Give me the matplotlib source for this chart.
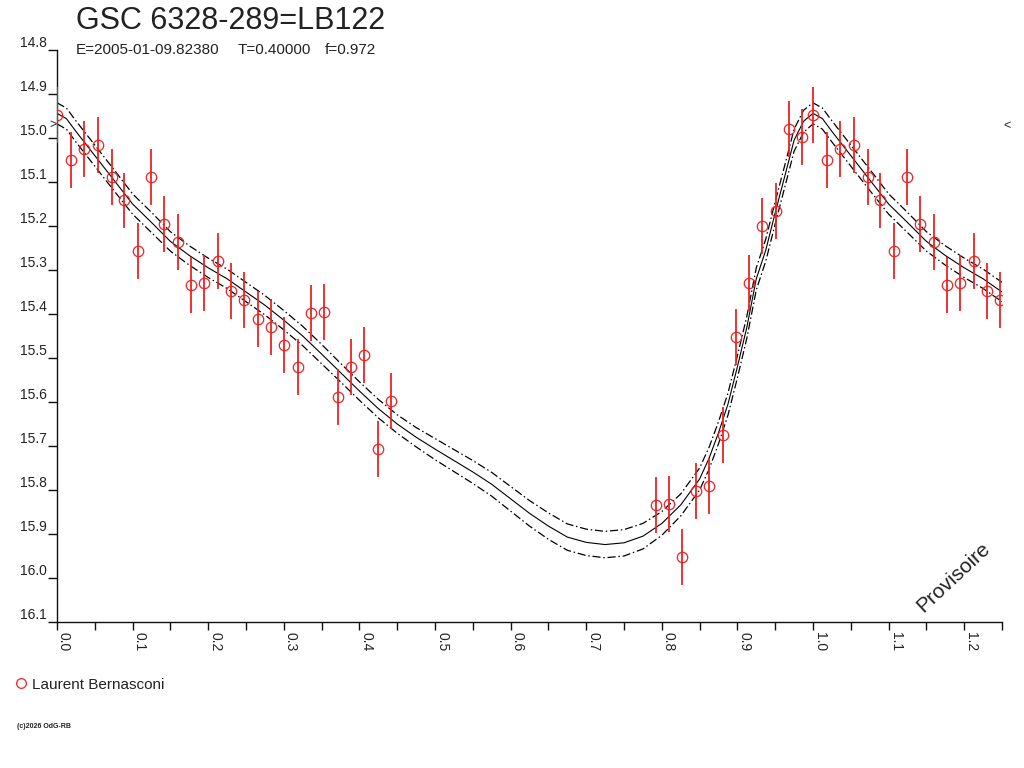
import numpy as np
import matplotlib
matplotlib.use("Agg")
import matplotlib.pyplot as plt
from matplotlib.lines import Line2D
from matplotlib.ticker import MultipleLocator, FormatStrFormatter

plt.rcParams['font.family'] = ['Liberation Sans', 'DejaVu Sans']

W, H = 1024, 768
TXT = '#222222'
RED = '#ee2222'

title = "GSC 6328-289=LB122"
epoch_txt = "E=2005-01-09.82380"
period_txt = "T=0.40000"
f_txt = "f=0.972"
observer = "Laurent Bernasconi"
credit = "(c)2026 OdG-RB"

obs_phase = [0.000, 0.0185, 0.0357, 0.0542, 0.0728, 0.0886, 0.107, 0.124, 0.1415, 0.160,
             0.177, 0.194, 0.213, 0.230, 0.247, 0.266, 0.283, 0.300, 0.319, 0.336,
             0.353, 0.372, 0.389, 0.406, 0.425, 0.442,
             0.792, 0.810, 0.827, 0.845, 0.862, 0.881, 0.898, 0.915, 0.933, 0.951,
             0.968, 0.985]
obs_mag = [14.948, 15.050, 15.025, 15.016, 15.089, 15.142, 15.257, 15.089, 15.195, 15.236,
           15.334, 15.330, 15.280, 15.348, 15.368, 15.411, 15.430, 15.470, 15.520, 15.398,
           15.395, 15.589, 15.520, 15.493, 15.707, 15.598,
           15.834, 15.832, 15.952, 15.802, 15.791, 15.675, 15.452, 15.330, 15.200, 15.166,
           14.980, 14.998]
obs_err = 0.063

# fitted light curve and its band half-width
fit_phase = [0.0, 0.0125, 0.025, 0.05, 0.075, 0.10, 0.125, 0.15, 0.175, 0.20, 0.225, 0.25,
             0.275, 0.30, 0.325, 0.35, 0.375, 0.40, 0.425, 0.45, 0.475, 0.50, 0.525, 0.55,
             0.575, 0.60, 0.625, 0.65, 0.675, 0.70, 0.725, 0.75, 0.775, 0.80, 0.825, 0.85,
             0.8625, 0.875, 0.8875, 0.90, 0.9125, 0.925, 0.9375, 0.95, 0.9625, 0.975, 0.9875]
fit_mag = [14.944, 14.956, 14.985, 15.040, 15.095, 15.150, 15.192, 15.235, 15.267, 15.295,
           15.320, 15.350, 15.380, 15.414, 15.450, 15.491, 15.533, 15.575, 15.615, 15.650,
           15.680, 15.707, 15.733, 15.759, 15.787, 15.820, 15.853, 15.882, 15.907, 15.919,
           15.924, 15.920, 15.905, 15.876, 15.834, 15.775, 15.728, 15.670, 15.605, 15.520,
           15.430, 15.320, 15.255, 15.170, 15.088, 15.005, 14.962]
fit_band = [0.024, 0.024, 0.024, 0.024, 0.024, 0.023, 0.023, 0.022, 0.022, 0.022,
            0.022, 0.022, 0.022, 0.022, 0.022, 0.022, 0.021, 0.021, 0.021, 0.021,
            0.022, 0.024, 0.025, 0.026, 0.027, 0.028, 0.029, 0.030, 0.030, 0.030,
            0.030, 0.030, 0.029, 0.027, 0.025, 0.025, 0.025, 0.025, 0.025, 0.025,
            0.025, 0.025, 0.025, 0.025, 0.025, 0.025, 0.025]


def fx(x):
    return x / W


def fy(y):
    return 1 - y / H


def extend(phase, vals, upto=0.25):
    phase = np.asarray(phase)
    vals = np.asarray(vals)
    keep = phase <= upto + 1e-9
    return np.concatenate([phase, phase[keep] + 1]), np.concatenate([vals, vals[keep]])


fig = plt.figure(figsize=(W / 100, H / 100), dpi=100)
ax = fig.add_axes([fx(57), fy(622), fx(945), 572 / H])

# light curve with band
px, pm = extend(fit_phase, fit_mag)
_, pb = extend(fit_phase, fit_band)
ax.plot(px, pm, color='black', lw=0.8)
ax.plot(px, pm - pb, color='black', lw=0.9, linestyle=(0, (6.5, 2.2, 1.2, 2.2)))
ax.plot(px, pm + pb, color='black', lw=0.9, linestyle=(0, (6.5, 2.2, 1.2, 2.2)))

# observations, repeated past phase 1
ox, om = extend(obs_phase, obs_mag)
ax.errorbar(ox, om, yerr=obs_err, fmt='o', mfc='none', mec=RED, ms=7.5, mew=0.9,
            ecolor=RED, elinewidth=1.3, capsize=0, zorder=3)

ax.set_xlim(0, 1.25)
ax.set_ylim(16.1, 14.8)

for s in ['top', 'right']:
    ax.spines[s].set_visible(False)
for s in ['left', 'bottom']:
    ax.spines[s].set_linewidth(1.0)
    ax.spines[s].set_color('#111111')

ax.xaxis.set_major_locator(MultipleLocator(0.1))
ax.xaxis.set_minor_locator(MultipleLocator(0.05))
ax.xaxis.set_major_formatter(FormatStrFormatter('%.1f'))
ax.yaxis.set_major_locator(MultipleLocator(0.1))
ax.yaxis.set_major_formatter(FormatStrFormatter('%.1f'))

ax.tick_params(axis='x', which='both', direction='out', length=6, width=1.0,
               color='#111111', labelsize=10, labelcolor=TXT, pad=1.5)
ax.tick_params(axis='x', which='major', labelrotation=-90)
ax.tick_params(axis='y', which='major', direction='out', length=6.5, width=1.0,
               color='#111111', labelsize=10, labelcolor=TXT, pad=1)
for lab in ax.get_xticklabels():
    lab.set_ha('left')
    lab.set_va('top')
for lab in ax.get_yticklabels():
    lab.set_va('bottom')

# header texts
fig.text(fx(76), fy(29), title, fontsize=22, color=TXT, va='baseline')
fig.text(fx(76), fy(54), epoch_txt, fontsize=11, color=TXT, va='baseline')
fig.text(fx(238), fy(54), period_txt, fontsize=11, color=TXT, va='baseline')
fig.text(fx(325), fy(54), f_txt, fontsize=11, color=TXT, va='baseline')

# markers on the axes edges
fig.text(fx(53), fy(125), ">", fontsize=9, color=TXT, ha='center', va='center')
fig.text(fx(1007), fy(126), "<", fontsize=9, color=TXT, ha='center', va='center')

# watermark
fig.text(fx(953), fy(577), "Provisoire", fontsize=15, color=TXT, rotation=43,
         ha='center', va='center', rotation_mode='anchor')

# legend
fig.add_artist(Line2D([fx(21)], [fy(683)], transform=fig.transFigure, marker='o',
                      mfc='none', mec=RED, ms=7, mew=0.9, linestyle='none'))
fig.text(fx(32), fy(689), observer, fontsize=11, color=TXT, va='baseline')
fig.text(fx(17), fy(728), credit, fontsize=5, color=TXT, va='baseline', weight='bold')

fig.savefig('out.png', dpi=100)
